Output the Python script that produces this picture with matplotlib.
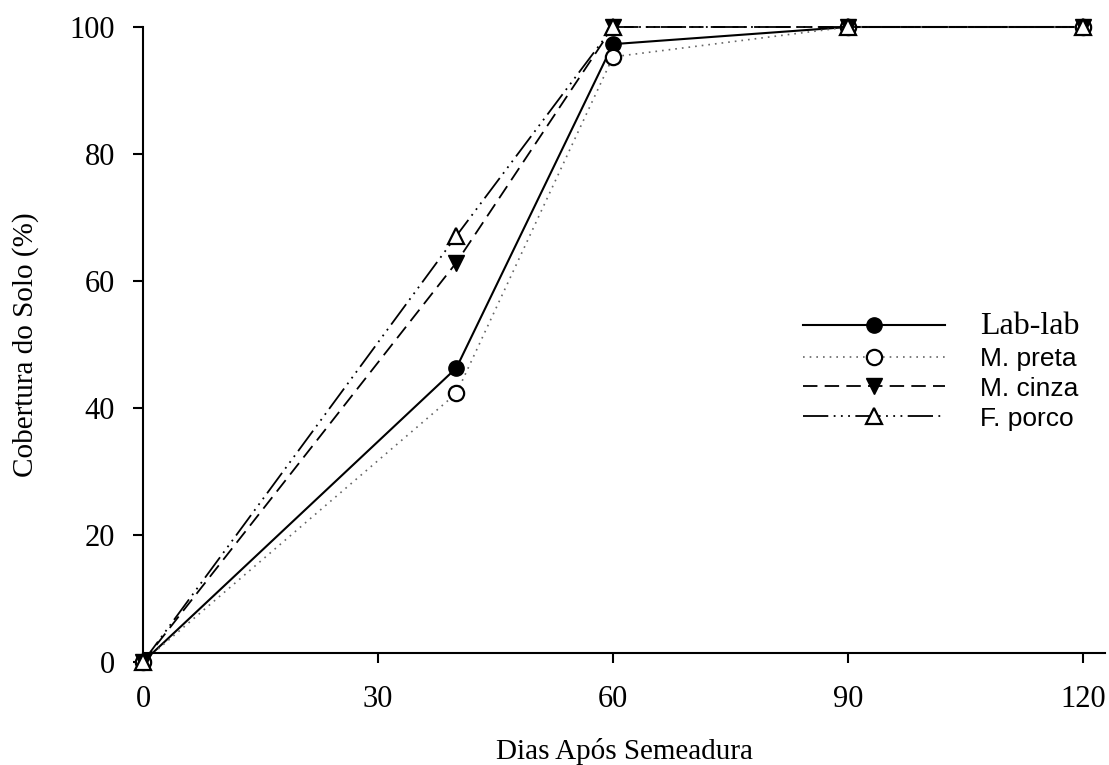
import matplotlib
matplotlib.use("Agg")
import matplotlib.pyplot as plt

OUTPUT_FIG = "out.png"

DAYS = [0, 40, 60, 90, 120]
LAB_LAB = [0, 46.3, 97.3, 100, 100]
M_PRETA = [0, 42.3, 95.3, 100, 100]
M_CINZA = [0, 62.9, 100, 100, 100]
F_PORCO = [0, 67.1, 100, 100, 100]
SERIES_NAMES = ["Lab-lab", "M. preta", "M. cinza", "F. porco"]

X_TICKS = [0, 30, 60, 90, 120]
Y_TICKS = [0, 20, 40, 60, 80, 100]

SERIF = "Liberation Serif"
SANS = "Liberation Sans"


def main():
    fig = plt.figure(figsize=(11.09, 7.65), dpi=100)
    ax = fig.add_axes([143 / 1109, 1 - 662 / 765, (1105 - 143) / 1109, (662 - 27) / 765])

    # line styles taken from the legend of the original figure
    styles = [
        dict(color="black", linestyle="-", lw=1.5, marker="o", mfc="black", mec="black", ms=11),
        dict(color="#666666", linestyle=(0, (1, 3)), lw=1.2, marker="o", mfc="white", mec="black", mew=1.6, ms=11),
        dict(color="black", linestyle=(0, (8, 4)), lw=1.3, marker="v", mfc="black", mec="black", ms=12),
        dict(color="black", linestyle=(0, (14, 3, 1, 3, 1, 3, 1, 3)), lw=1.3, marker="^", mfc="white", mec="black", mew=1.6, ms=12),
    ]
    values = [LAB_LAB, M_PRETA, M_CINZA, F_PORCO]

    for name, vals, st in zip(SERIES_NAMES, values, styles):
        ax.plot(DAYS, vals, label=name, clip_on=False, **st)

    ax.set_xlim(0, 122.8)
    ax.set_ylim(0, 100)
    ax.set_xticks(X_TICKS)
    ax.set_yticks(Y_TICKS)

    # offset frame like the original: x axis sits just above y=0
    ax.spines["top"].set_visible(False)
    ax.spines["right"].set_visible(False)
    ax.spines["bottom"].set_position(("data", 1.42))
    ax.spines["left"].set_bounds(1.42, 100)
    for sp in ("bottom", "left"):
        ax.spines[sp].set_linewidth(1.5)

    ax.tick_params(axis="both", direction="out", length=7, width=1.5, labelsize=22)
    ax.tick_params(axis="x", pad=16)
    ax.tick_params(axis="y", pad=13)
    for lbl in ax.get_xticklabels() + ax.get_yticklabels():
        lbl.set_fontfamily(SERIF)

    ax.set_xlabel("Dias Após Semeadura", fontsize=21, fontfamily=SERIF, labelpad=17)
    ax.set_ylabel("Cobertura do Solo (%)", fontsize=21, fontfamily=SERIF, labelpad=22)

    leg = ax.legend(
        loc="upper left",
        bbox_to_anchor=(0.686, 0.551),
        frameon=False,
        borderpad=0,
        borderaxespad=0,
        handlelength=5.4,
        handletextpad=1.3,
        labelspacing=0.22,
        prop={"family": SANS, "size": 19},
    )
    leg.get_texts()[0].set_fontfamily(SERIF)
    leg.get_texts()[0].set_fontsize(23)

    plt.savefig(OUTPUT_FIG, dpi=100)
    print(f"Saved: {OUTPUT_FIG}")


if __name__ == "__main__":
    main()
